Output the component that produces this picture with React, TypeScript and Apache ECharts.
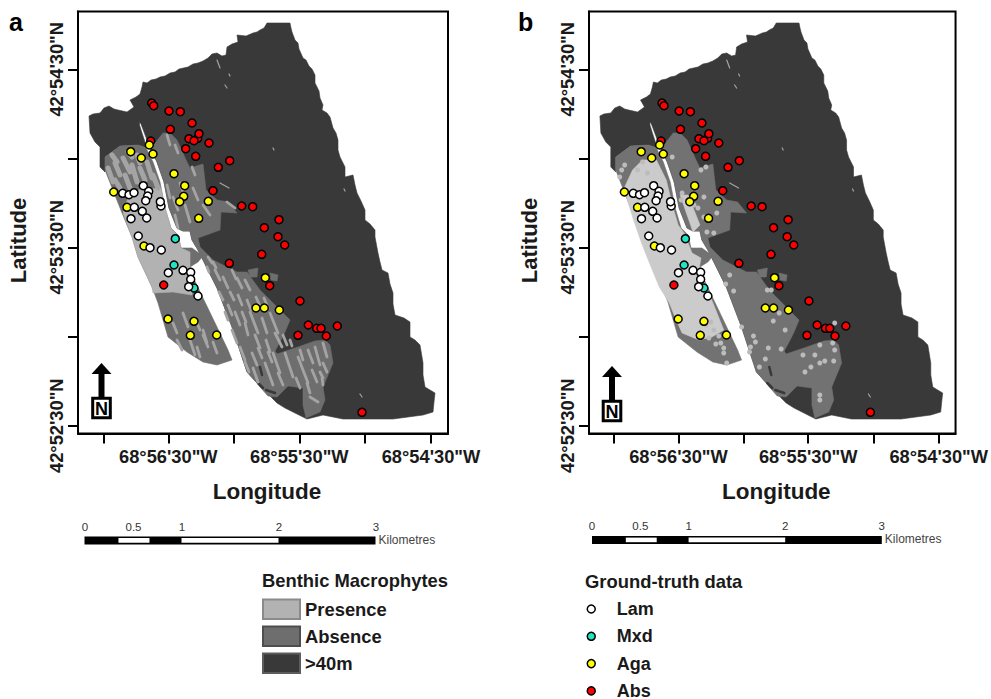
import React, { useEffect, useRef } from "react";
import * as echarts from "echarts";

// Map units: eastings and southings of the survey map sheet, shared by both panels.
const lonTickValues = [103.3, 168.3, 234, 299.3, 365, 431];
const lonTickLabels = ["", "68°56'30\"W", "", "68°55'30\"W", "", "68°54'30\"W"];
const latTickValues = [69.3, 159, 247.3, 336.7, 425.7];
const latTickLabels = ["42°54'30\"N", "", "42°53'30\"N", "", "42°52'30\"N"];

const deepOutline = [
  [89, 116], [93, 114], [100, 113], [104, 108], [109, 106], [114, 109], [118, 110], [127, 112], [134, 107], [130, 100], [136, 97], [140, 94], [142, 87], [143, 82], [147, 83], [151, 80],
  [156, 79], [160, 77], [165, 76], [170, 73], [175, 72], [179, 69], [188, 67], [193, 64], [198, 63], [203, 61], [208, 58], [212, 54], [217, 53], [222, 56], [226, 55], [227, 47], [232, 44], [238, 42], [237, 35],
  [246, 36], [253, 33], [257, 32], [260, 30], [264, 28], [267, 23], [279, 23], [290, 23], [291, 28], [292, 32], [295, 40], [298, 43], [299, 49], [303, 58], [306, 60], [309, 66], [312, 69], [315, 75], [315, 83], [319, 91], [320, 98],
  [323, 105], [322, 110], [327, 113], [330, 117], [333, 128], [336, 133], [338, 140], [338, 150], [340, 157], [345, 167], [345, 177], [353, 175], [355, 185], [357, 193], [361, 201], [365, 210],
  [365, 220], [370, 224], [375, 230], [375, 237], [378, 253], [380, 262], [382, 270], [388, 273], [390, 284], [393, 293], [393, 304], [395, 315], [404, 318], [410, 322], [410, 337], [415, 340], [420, 345],
  [423, 363], [423, 375], [425, 387], [430, 390], [435, 393], [434, 402], [433, 412], [423, 415], [393, 419], [343, 419], [323, 415], [307, 419], [293, 412], [285, 408], [277, 403], [267, 393],
  [257, 383], [247, 372], [232, 327], [217, 288], [198, 250], [192, 240], [190, 231], [183, 231], [177, 228], [169, 208], [164, 182], [157, 162], [150, 148], [144, 132], [141, 124], [139.5, 122], [139.5, 125], [142, 133], [147, 148],
  [138, 145], [120, 146], [105, 157], [105, 172], [100, 167], [100, 147], [95, 142], [90, 133],
];
const westStrip = [
  [105, 170], [105, 157], [120, 146], [138, 145], [146, 148], [153, 162], [160, 182], [165, 208], [171, 228], [178, 235], [181, 248], [192, 248], [203, 256], [198, 262], [190, 267], [193, 277],
  [203, 298], [217, 327], [228, 350], [232, 360], [217, 365], [203, 362], [187, 352], [168, 337], [158, 303], [152, 287], [138, 257], [132, 237], [122, 213],
];
const eastStrip = [
  [152, 147], [163, 133], [170, 133], [177, 140], [186, 160], [190, 168], [203, 164], [206, 190], [217, 200], [228, 202], [237, 213], [221, 212], [220, 230], [198, 238],
  [200, 247], [213, 260], [227, 267], [237, 272], [247, 272], [260, 290], [273, 303], [290, 320], [285, 332], [281, 340], [275, 351], [277, 354], [295, 348],
  [315, 341], [325, 340], [330, 345], [333, 363], [323, 387], [325, 400], [320, 412], [306, 418], [303, 405], [303, 388], [288, 386], [277, 397], [268, 396],
  [260, 387], [257, 383], [247, 372], [232, 327], [217, 288], [198, 250], [192, 240], [190, 231], [183, 231], [177, 228], [169, 208], [164, 182], [157, 162],
];
const shallowPatches = [
  [[248, 270], [258, 268], [257, 277], [250, 277]],
  [[270, 273], [278, 275], [277, 281], [271, 280]],
];
const deepSpecks = [[260, 367, 262, 375], [258, 383, 263, 388], [266, 390, 275, 393]];
const presencePolygonsA = [
  [[123, 213], [128, 198], [138, 190], [161, 188], [165, 208], [171, 228], [178, 236], [181, 248], [190, 252], [190, 267], [193, 277], [192, 295], [173, 292], [153, 293], [152, 287], [138, 257], [132, 237]],
];
const presencePolygonsB = [
  [[114, 187], [122, 170], [132, 160], [146, 160], [156, 180], [162, 205], [168, 225], [174, 233], [182, 253], [191, 258], [189, 270], [199, 293], [206, 310], [214, 330], [202, 337], [189, 340], [172, 333], [166, 320], [159, 303], [149, 287], [139, 263], [131, 243], [122, 217], [116, 197]],
  [[170, 195], [178, 195], [190, 225], [183, 232]],
];
const presenceStreaksA = [
  [208, 257, 212, 263], [223, 277, 228, 288], [237, 278, 242, 288], [230, 292, 234, 300], [245, 280, 250, 290], [238, 295, 242, 305], [250, 312, 258, 333],
  [270, 313, 278, 333], [262, 318, 267, 333], [235, 312, 240, 325], [245, 323, 248, 335], [275, 333, 282, 347], [283, 335, 287, 345], [255, 335, 260, 348],
  [232, 330, 237, 343], [240, 347, 245, 360], [252, 353, 257, 365], [273, 353, 280, 373], [285, 353, 293, 377], [298, 357, 308, 383], [308, 350, 313, 363],
  [315, 347, 320, 365], [323, 343, 327, 357], [312, 370, 317, 382], [323, 363, 327, 372], [265, 363, 273, 385], [278, 373, 283, 385], [253, 368, 258, 382],
  [307, 383, 310, 393], [310, 397, 318, 402], [320, 372, 323, 378], [215, 270, 220, 280], [207, 267, 209, 272], [195, 318, 200, 330], [203, 335, 208, 347],
  [213, 342, 217, 353], [197, 347, 200, 357], [173, 323, 177, 333], [183, 313, 188, 327], [203, 330, 207, 343], [177, 340, 182, 350], [190, 340, 195, 355],
  [167, 135, 170, 145], [175, 145, 178, 153], [180, 183, 185, 197], [173, 197, 178, 210], [167, 185, 170, 198], [193, 188, 198, 200], [192, 167, 195, 175],
  [203, 205, 210, 215], [185, 205, 190, 222], [227, 202, 235, 208], [175, 215, 178, 228],
  [213, 262, 216, 268], [232, 270, 236, 279], [219, 292, 223, 300], [228, 305, 232, 315], [247, 300, 251, 310], [256, 297, 260, 306], [242, 312, 246, 322],
  [264, 298, 268, 308], [225, 312, 228, 320], [266, 340, 270, 352], [290, 340, 292, 346], [300, 350, 303, 360], [245, 362, 249, 372], [258, 348, 262, 358],
  [322, 378, 323, 385], [296, 378, 300, 388], [268, 352, 272, 362],
];
const presenceBlotchesA = [
  [108, 168, 113, 182], [115, 163, 120, 175], [123, 158, 130, 172], [132, 165, 137, 182], [140, 168, 145, 180], [147, 162, 152, 178], [115, 180, 120, 188],
  [125, 175, 130, 188], [137, 155, 140, 163], [153, 175, 158, 188], [112, 155, 117, 162], [128, 152, 132, 157],
];
const sharedSpecks = [
  [217, 60, 220, 68], [225, 85, 227, 88], [229, 74, 230, 76], [220, 183, 229, 188], [273, 148, 274, 150], [344, 189, 345, 191], [360, 394, 362, 397],
];
const presenceDotsB = [
  [220, 275], [216, 284], [224, 291], [232, 327], [244, 336], [246, 342], [241, 347], [240, 352], [259, 348], [272, 349], [256, 359], [250, 367], [294, 355], [306, 355],
  [311, 363], [316, 361], [325, 361], [302, 367], [296, 372], [264, 321], [276, 330], [270, 313], [262, 290], [258, 290], [324, 343], [326, 350], [311, 345], [311, 395],
  [311, 400], [204, 330], [199, 338], [206, 344], [211, 343], [214, 348], [214, 353], [217, 363], [209, 336], [196, 325], [201, 322], [326, 323],
  [109, 177], [111, 170], [114, 165], [127, 170], [132, 162], [137, 173], [162, 157], [191, 170], [196, 167], [172, 193], [171, 200], [194, 197], [188, 208], [194, 217],
  [207, 213], [197, 232], [204, 233], [184, 205],
];

const absSites = [
  [151.7, 103], [153.7, 105.7], [169, 111], [180.3, 111.7], [192, 123], [170.3, 129.3], [189, 138.7], [197.7, 138.3], [194, 140.7], [199, 133.7], [209, 143], [150.7, 141],
  [185.7, 148.7], [195.7, 156.3], [229.7, 160.7], [218.3, 167.3], [213, 190.7], [241.7, 206], [252.7, 206.7], [279, 219.7], [264.3, 227.7], [278, 236.7], [284.7, 245],
  [261.7, 254.3], [229.3, 263.3], [269.7, 285.7], [300, 301], [308.3, 325], [316.7, 328.3], [321, 328.3], [337.3, 326], [298, 335.3], [326.3, 336], [163.7, 285], [362, 412.3],
];
const mxdSites = [[175.3, 238.7], [174, 265], [194, 288]];
const agaSites = [
  [149.3, 145], [130.7, 151.7], [153, 154], [141.3, 158], [174, 173.7], [184.7, 185.7], [113.7, 192], [183.7, 196.3], [179.7, 201.7], [208.3, 201.3], [127, 207.3], [198.7, 218.3],
  [144, 246], [265.3, 277.7], [256, 308], [264.3, 308], [279.3, 310], [168, 319], [194, 321.3], [190.3, 335.3], [216.7, 335],
];
const lamSites = [
  [143.3, 185.7], [148.7, 191.3], [122.7, 193.3], [129, 194.7], [134, 192.7], [147.7, 196], [145.7, 200.7], [161, 206], [160.3, 201.7], [134.3, 207.3], [142.3, 211.3],
  [146.7, 218], [131, 218.7], [138.3, 236], [150, 247.7], [161.3, 250], [183, 270.3], [190.7, 272.3], [168.3, 272.7], [190.7, 279.3], [188.7, 286.7], [198, 296],
];

const scaleValues = ["0", "0.5", "1", "2", "3"];
const habitatNames = ["Presence", "Absence", ">40m"];
const siteNames = ["Lam", "Mxd", "Aga", "Abs"];

const FONT = "'Liberation Sans', Arial, sans-serif";
const C = {
  deep: "#393939", mid: "#6e6e6e", lightA: "#b2b2b2", streak: "#a4a4a4", midB: "#727272", lightB: "#cbcbcb", dot: "#bcbcbc",
  Lam: "#ffffff", Mxd: "#1ee6c4", Aga: "#ffff00", Abs: "#ff0000",
};

function polygons(name: string, polys: number[][][], color: string, gi: number) {
  return {
    type: "custom", name, coordinateSystem: "cartesian2d", xAxisIndex: gi, yAxisIndex: gi, silent: true, clip: true,
    data: polys.map((p, i) => [p[0][0], p[0][1], i]),
    renderItem: (params: any, api: any) => ({
      type: "polygon",
      shape: { points: polys[params.dataIndex].map((v) => api.coord(v)) },
      style: { fill: color, stroke: color, lineWidth: 0.6 },
    }),
  };
}
function streaks(name: string, rows: number[][], color: string, width: number, gi: number) {
  return {
    type: "custom", name, coordinateSystem: "cartesian2d", xAxisIndex: gi, yAxisIndex: gi, silent: true,
    data: rows, encode: { x: [0, 2], y: [1, 3] },
    renderItem: (_: any, api: any) => {
      const a = api.coord([api.value(0), api.value(1)]);
      const b = api.coord([api.value(2), api.value(3)]);
      return { type: "line", shape: { x1: a[0], y1: a[1], x2: b[0], y2: b[1] }, style: { stroke: color, lineWidth: width, lineCap: "round" } };
    },
  };
}
function sites(name: string, rows: number[][], color: string, gi: number) {
  return {
    type: "scatter", name, xAxisIndex: gi, yAxisIndex: gi, data: rows, symbol: "circle", symbolSize: 8, silent: true,
    itemStyle: { color, borderColor: "#000", borderWidth: 1.5, opacity: 1 },
  };
}
function panelSeries(gi: number) {
  const isA = gi === 0;
  const mid = isA ? C.mid : C.midB;
  const base: any[] = [
    polygons(">40m", [deepOutline], C.deep, gi),
    polygons("Absence", [westStrip, eastStrip, ...shallowPatches], mid, gi),
    streaks(">40m", deepSpecks, C.deep, 2.5, gi),
    polygons("Presence", isA ? presencePolygonsA : presencePolygonsB, isA ? C.lightA : C.lightB, gi),
  ];
  if (isA) {
    base.push(streaks("Presence", presenceStreaksA, C.streak, 2.8, gi));
    base.push(streaks("Presence", presenceBlotchesA, C.streak, 5, gi));
  } else {
    base.push({
      type: "scatter", name: "Presence", xAxisIndex: gi, yAxisIndex: gi, data: presenceDotsB, symbol: "circle", symbolSize: 5, silent: true,
      itemStyle: { color: C.dot, opacity: 1 },
    });
  }
  base.push(streaks("Presence", sharedSpecks, C.streak, 1.2, gi));
  base.push(sites("Abs", absSites, C.Abs, gi), sites("Mxd", mxdSites, C.Mxd, gi), sites("Aga", agaSites, C.Aga, gi), sites("Lam", lamSites, C.Lam, gi));
  return base;
}
function xAxis(gi: number) {
  return {
    type: "value", gridIndex: gi, min: 78, max: 448, name: "Longitude", nameLocation: "middle", nameGap: 46,
    nameTextStyle: { fontFamily: FONT, fontWeight: "bold", fontSize: 22.5, color: "#1a1a1a", padding: [0, 0, 0, 8] },
    splitLine: { show: false },
    axisLine: { onZero: false, lineStyle: { color: "#000", width: 2 } },
    axisTick: { customValues: lonTickValues, length: 10, lineStyle: { color: "#000", width: 2 } },
    axisLabel: {
      customValues: lonTickValues, margin: 14, fontFamily: FONT, fontWeight: "bold", fontSize: 18.3, color: "#1a1a1a",
      formatter: (v: number) => lonTickLabels[lonTickValues.indexOf(v)] ?? "",
    },
  };
}
function yAxis(gi: number) {
  return {
    type: "value", gridIndex: gi, inverse: true, min: 11.5, max: 433.5, name: "Latitude", nameLocation: "middle", nameGap: 49,
    nameTextStyle: { fontFamily: FONT, fontWeight: "bold", fontSize: 22, color: "#1a1a1a", padding: [0, 36, 0, 0] },
    splitLine: { show: false },
    axisLine: { onZero: false, lineStyle: { color: "#000", width: 2 } },
    axisTick: { customValues: latTickValues, length: 10, lineStyle: { color: "#000", width: 2 } },
    axisLabel: {
      customValues: latTickValues, rotate: 90, margin: 13, fontFamily: FONT, fontWeight: "bold", fontSize: 18.3, color: "#1a1a1a",
      formatter: (v: number) => latTickLabels[latTickValues.indexOf(v)] ?? "",
    },
  };
}
function scaleBar(x0: number, y: number, ppkm: number, numLeft: number) {
  const W = ppkm * 3;
  const out: any[] = [
    { type: "rect", shape: { x: x0, y, width: W, height: 8 }, style: { fill: "#000" } },
    { type: "rect", shape: { x: x0 + ppkm * 0.35, y: y + 1.6, width: ppkm * 0.32, height: 4.6 }, style: { fill: "#fff" } },
    { type: "rect", shape: { x: x0 + ppkm, y: y + 1.6, width: ppkm, height: 4.6 }, style: { fill: "#fff" } },
  ];
  const offs = [0, 0.5, 1, 2, 3];
  scaleValues.forEach((t, i) => out.push({
    type: "text", x: numLeft + offs[i] * ppkm, y: y - 10,
    style: { text: t, fill: "#333", font: `11.5px ${FONT}`, align: "center", verticalAlign: "middle" },
  }));
  out.push({ type: "text", x: x0 + W + 3, y: y + 3, style: { text: "Kilometres", fill: "#444", font: `12px ${FONT}`, align: "left", verticalAlign: "middle" } });
  return out;
}
function northArrow(cx: number, top: number) {
  return [
    { type: "polygon", z: 50, shape: { points: [[cx, top], [cx + 10, top + 11], [cx - 10, top + 11]] }, style: { fill: "#000" } },
    { type: "rect", z: 50, shape: { x: cx - 3, y: top + 10, width: 6, height: 25 }, style: { fill: "#000" } },
    { type: "rect", z: 50, shape: { x: cx - 8.8, y: top + 35.3, width: 17.6, height: 19.5 }, style: { fill: "#fff", stroke: "#000", lineWidth: 3 } },
    { type: "text", z: 51, x: cx, y: top + 45.5, style: { text: "N", fill: "#000", font: `bold 18px ${FONT}`, align: "center", verticalAlign: "middle" } },
  ];
}

export default function App() {
  const ref = useRef<HTMLDivElement>(null);
  useEffect(() => {
    document.body.style.margin = "0";
    const chart = echarts.init(ref.current!, undefined, { renderer: "svg", width: 991, height: 699 });
    chart.setOption({
      animation: false,
      backgroundColor: "#fff",
      grid: [
        { left: 78, top: 11.5, width: 370, height: 422, show: true, borderColor: "#000", borderWidth: 2, backgroundColor: "#fff" },
        { left: 589, top: 11.5, width: 370, height: 422, show: true, borderColor: "#000", borderWidth: 2, backgroundColor: "#fff" },
      ],
      xAxis: [xAxis(0), xAxis(1)],
      yAxis: [yAxis(0), yAxis(1)],
      tooltip: { show: false },
      legend: [
        {
          left: 262, top: 598.5, padding: 0, orient: "vertical", itemWidth: 37, itemHeight: 19.5, itemGap: 5.5, selectedMode: false,
          textStyle: { fontFamily: FONT, fontWeight: "bold", fontSize: 18.4, color: "#1a1a1a", lineHeight: 20 },
          data: [
            { name: habitatNames[0], icon: "rect", itemStyle: { color: C.lightA, borderColor: "#8a8a8a", borderWidth: 2 } },
            { name: habitatNames[1], icon: "rect", itemStyle: { color: C.mid, borderColor: "#4e4e4e", borderWidth: 2 } },
            { name: habitatNames[2], icon: "rect", itemStyle: { color: C.deep, borderColor: "#5c5c5c", borderWidth: 2 } },
          ],
        },
        {
          left: 586.5, top: 600, height: 130, padding: 0, orient: "vertical", itemWidth: 41, itemHeight: 8, itemGap: 9.3, selectedMode: false,
          textStyle: { fontFamily: FONT, fontWeight: "bold", fontSize: 18, color: "#1a1a1a", lineHeight: 16 },
          data: siteNames.map((name) => ({ name, icon: "circle", itemStyle: { color: (C as any)[name], borderColor: "#000", borderWidth: 1.5, opacity: 1 } })),
        },
      ],
      series: [...panelSeries(0), ...panelSeries(1)],
      graphic: [
        { type: "text", x: 9, y: 9, style: { text: "a", fill: "#000", font: `bold 25px ${FONT}` } },
        { type: "text", x: 518, y: 9, style: { text: "b", fill: "#000", font: `bold 25px ${FONT}` } },
        ...northArrow(101.5, 363),
        ...northArrow(612, 366),
        ...scaleBar(84.5, 536.5, 97, 85),
        ...scaleBar(592, 536, 96.6, 592),
        { type: "text", x: 262, y: 580, style: { text: "Benthic Macrophytes", fill: "#1a1a1a", font: `bold 18.4px ${FONT}`, verticalAlign: "middle" } },
        { type: "text", x: 585, y: 581.5, style: { text: "Ground-truth data", fill: "#1a1a1a", font: `bold 18.4px ${FONT}`, verticalAlign: "middle" } },
      ],
    });
    return () => chart.dispose();
  }, []);
  return <div ref={ref} style={{ position: "absolute", left: 0, top: 0, width: 991, height: 699 }} />;
}
